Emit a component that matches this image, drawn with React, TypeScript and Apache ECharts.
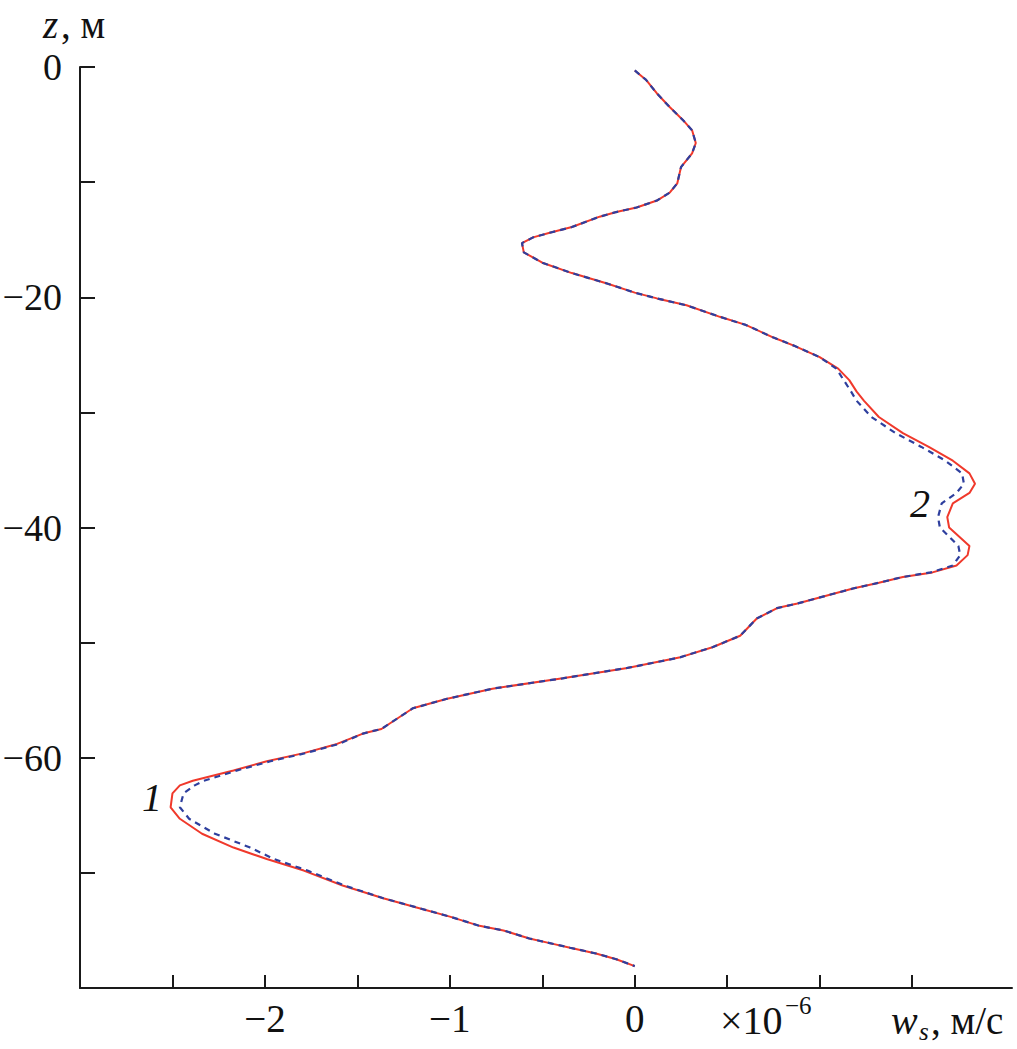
import React, { useEffect, useRef } from "react";
import * as echarts from "echarts";

// depth z, m
const depths: number[] = [
  -0.3, -1.1, -2.3, -3.5, -4.6, -5.5, -6.6, -7.5, -8.7, -10.1, -10.9, -11.6, -12.2, -12.6, -13.0,
  -13.9, -14.4, -14.8, -15.3, -16.1, -17.0, -17.9, -18.8, -19.6, -20.1, -20.7, -21.7, -22.4, -23.5,
  -24.2, -25.2, -26.2, -27.2, -28.2, -29.0, -30.4, -31.8, -33.0, -34.2, -35.3, -36.2, -37.0, -37.9, -39.1,
  -40.0, -41.6, -42.4, -43.3, -43.9, -44.3, -44.8, -45.3, -46.6, -47.0, -47.9, -49.4, -50.4, -51.3,
  -52.2, -53.1, -54.0, -54.9, -55.7, -57.5, -57.9, -58.8, -59.6, -60.3, -61.1, -62.0, -62.4, -63.1,
  -64.3, -65.3, -66.6, -67.8, -68.8, -69.8, -71.1, -72.2, -73.0, -73.8, -74.6, -75.0, -75.7, -76.1,
  -76.5, -77.0, -77.5, -78.1,
];

// curve 1 (red, solid), w_s ×10^-6 m/s
const curve1: number[] = [
  0.0, 0.06, 0.12, 0.19, 0.26, 0.31, 0.33, 0.31, 0.25, 0.23, 0.19, 0.12, 0.01, -0.1, -0.19,
  -0.34, -0.46, -0.55, -0.61, -0.6, -0.5, -0.34, -0.15, 0.0, 0.12, 0.28, 0.46, 0.6, 0.75,
  0.86, 1.0, 1.1, 1.16, 1.2, 1.24, 1.32, 1.45, 1.59, 1.72, 1.81, 1.84, 1.81, 1.72, 1.69,
  1.7, 1.81, 1.8, 1.74, 1.61, 1.45, 1.32, 1.18, 0.88, 0.77, 0.66, 0.57, 0.42, 0.24,
  -0.04, -0.39, -0.77, -1.02, -1.2, -1.37, -1.47, -1.61, -1.79, -1.99, -2.17, -2.39, -2.46, -2.5,
  -2.51, -2.46, -2.34, -2.17, -1.99, -1.79, -1.58, -1.36, -1.18, -1.0, -0.84, -0.71, -0.57, -0.46,
  -0.35, -0.21, -0.1, 0.0,
];

// curve 2 (blue, dashed)
const curve2: number[] = [
  0.0, 0.06, 0.12, 0.19, 0.26, 0.31, 0.33, 0.31, 0.25, 0.23, 0.19, 0.12, 0.01, -0.1, -0.19,
  -0.34, -0.46, -0.55, -0.61, -0.6, -0.5, -0.34, -0.15, 0.0, 0.12, 0.28, 0.46, 0.6, 0.75,
  0.86, 1.0, 1.09, 1.13, 1.17, 1.2, 1.28, 1.41, 1.55, 1.68, 1.77, 1.78, 1.74, 1.66, 1.64,
  1.65, 1.75, 1.76, 1.72, 1.6, 1.45, 1.32, 1.18, 0.88, 0.77, 0.66, 0.57, 0.42, 0.24,
  -0.04, -0.39, -0.77, -1.02, -1.2, -1.37, -1.47, -1.6, -1.78, -1.97, -2.15, -2.33, -2.38, -2.44,
  -2.46, -2.41, -2.27, -2.08, -1.95, -1.77, -1.57, -1.36, -1.18, -1.0, -0.84, -0.71, -0.57, -0.46,
  -0.35, -0.21, -0.1, 0.0,
];

const xTicks: number[] = [-2.5, -2, -1.5, -1, -0.5, 0, 0.5, 1, 1.5];
const xLabels: number[] = [-2, -1, 0];
const yTicks: number[] = [0, -10, -20, -30, -40, -50, -60, -70];
const yLabels: number[] = [0, -20, -40, -60];

const FONT = "'Liberation Serif', 'Times New Roman', serif";
const fmt = (v: number) => (v < 0 ? "\u2212" + Math.abs(v) : String(v));

export default function App() {
  const ref = useRef<HTMLDivElement>(null);
  useEffect(() => {
    if (!ref.current) return;
    const chart = echarts.init(ref.current, undefined, { renderer: "svg" });
    const d1 = depths.map((z, i) => [curve1[i], z]);
    const d2 = depths.map((z, i) => [curve2[i], z]);
    const axisLine = { show: true, onZero: false, lineStyle: { color: "#1a1a1a", width: 2 } };
    const txt = (x: number, y: number, text: string, size: number, italic = false, align = "left") => ({
      type: "text",
      x,
      y,
      style: {
        text,
        font: `${italic ? "italic " : ""}${size}px ${FONT}`,
        fill: "#111",
        align,
        verticalAlign: "middle",
      },
    });
    chart.setOption({
      animation: false,
      backgroundColor: "#fff",
      textStyle: { fontFamily: FONT },
      grid: { left: 80, right: 5, top: 67, bottom: 61, containLabel: false, outerBoundsMode: "none" },
      xAxis: {
        type: "value",
        min: -3,
        max: 2.04,
        axisLine,
        axisTick: { show: true, inside: true, length: 13, customValues: xTicks, lineStyle: { color: "#1a1a1a", width: 2 } },
        axisLabel: {
          customValues: xLabels,
          formatter: (v: number) => fmt(v),
          fontFamily: FONT,
          fontSize: 39,
          color: "#111",
          margin: 11,
        },
        splitLine: { show: false },
      },
      yAxis: {
        type: "value",
        min: -80,
        max: 0,
        axisLine,
        axisTick: { show: true, inside: true, length: 15, customValues: yTicks, lineStyle: { color: "#1a1a1a", width: 2 } },
        axisLabel: {
          customValues: yLabels,
          formatter: (v: number) => fmt(v),
          fontFamily: FONT,
          fontSize: 38,
          color: "#111",
          margin: 18,
        },
        splitLine: { show: false },
      },
      series: [
        {
          type: "line",
          data: d1,
          symbol: "none",
          smooth: false,
          lineStyle: { color: "#f0392b", width: 2 },
          z: 2,
        },
        {
          type: "line",
          data: d2,
          symbol: "none",
          smooth: false,
          lineStyle: { color: "#2e3f9e", width: 2.2, type: [6, 5] },
          z: 3,
        },
      ],
      graphic: [
        txt(43, 24, "z", 39, true),
        txt(61, 24, ", м", 39),
        txt(720, 1020, "×10", 40),
        txt(785, 1005, "\u22126", 25),
        txt(891, 1020, "w", 40, true),
        txt(919, 1031, "s", 25, true),
        txt(931, 1020, ", м/с", 39),
        txt(152, 797, "1", 40, true, "center"),
        txt(920, 503, "2", 40, true, "center"),
      ],
    });
    return () => chart.dispose();
  }, []);
  return (
    <div
      ref={ref}
      style={{ position: "absolute", left: 0, top: 0, width: 1017, height: 1049, background: "#fff" }}
    />
  );
}
